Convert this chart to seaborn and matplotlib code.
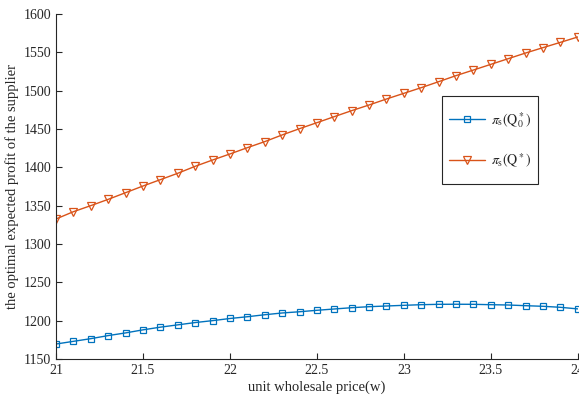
import numpy as np
import pandas as pd
import matplotlib
matplotlib.use("Agg")
import matplotlib.pyplot as plt
import seaborn as sns
from matplotlib.patches import Rectangle
from matplotlib.ticker import FuncFormatter

# unit wholesale price w, 21.0 .. 24.0 step 0.1
w = [21.0, 21.1, 21.2, 21.3, 21.4, 21.5, 21.6, 21.7, 21.8, 21.9,
     22.0, 22.1, 22.2, 22.3, 22.4, 22.5, 22.6, 22.7, 22.8, 22.9,
     23.0, 23.1, 23.2, 23.3, 23.4, 23.5, 23.6, 23.7, 23.8, 23.9, 24.0]

# pi_s(Q0*)
profit_q0 = [1169.5, 1173.0, 1176.5, 1180.5, 1184.0, 1188.0, 1191.5, 1194.5, 1197.5, 1200.0,
             1202.8, 1205.1, 1207.7, 1210.0, 1211.6, 1213.5, 1215.2, 1216.9, 1218.2, 1219.1,
             1220.0, 1220.8, 1221.3, 1221.4, 1221.3, 1220.8, 1220.4, 1219.5, 1218.7, 1217.4, 1215.3]

# pi_s(Q*)
profit_q = [1332.6, 1342.1, 1350.0, 1358.2, 1366.9, 1375.6, 1383.9, 1392.2, 1401.3, 1409.5,
            1417.4, 1425.6, 1433.5, 1442.2, 1450.4, 1458.2, 1466.1, 1473.9, 1481.3, 1489.1,
            1496.5, 1503.9, 1511.7, 1519.6, 1526.9, 1534.3, 1541.7, 1549.1, 1556.1, 1563.0, 1570.0]

labels = [r"$\pi_{\mathrm{s}}(\mathrm{Q}_0^*)$", r"$\pi_{\mathrm{s}}(\mathrm{Q}^*)$"]
colors = ["#0072BD", "#D95319"]

sns.set_style("ticks")
plt.rcParams["font.family"] = ["Liberation Serif", "DejaVu Serif"]
plt.rcParams["mathtext.fontset"] = "stix"
plt.rcParams["xtick.direction"] = "in"
plt.rcParams["ytick.direction"] = "in"

fig = plt.figure(figsize=(5.79, 3.99), dpi=100)
ax = fig.add_axes([0.0967, 0.1003, 0.9013, 0.8647])

sns.lineplot(x=w, y=profit_q0, ax=ax, color=colors[0], linewidth=1,
             marker="s", markersize=4.5, markerfacecolor="none",
             markeredgecolor=colors[0], markeredgewidth=0.9, label=labels[0])
sns.lineplot(x=w, y=profit_q, ax=ax, color=colors[1], linewidth=1,
             marker="v", markersize=5.5, markerfacecolor="none",
             markeredgecolor=colors[1], markeredgewidth=0.9, label=labels[1])

ax.set_xlim(21, 24)
ax.set_ylim(1150, 1600)
ax.set_xticks(np.arange(21, 24.01, 0.5))
ax.set_yticks(np.arange(1150, 1601, 50))
ax.xaxis.set_major_formatter(FuncFormatter(lambda v, p: f"{v:g}"))
ax.tick_params(labelsize=10, length=4, width=0.8, colors="#262626")
for s in ["left", "bottom"]:
    ax.spines[s].set_color("#262626")
    ax.spines[s].set_linewidth(0.8)
sns.despine(ax=ax)

ax.set_xlabel("unit wholesale price(w)", fontsize=10.5, labelpad=3)
ax.set_ylabel("the optimal expected profit of the supplier", fontsize=10.5, labelpad=3)

# legend entries without frame, box drawn separately (MATLAB-like padding)
ax.legend(loc="center left", bbox_to_anchor=(0.753, 0.635), fontsize=10,
          frameon=False, handlelength=2.6, labelspacing=1.55,
          borderpad=0, handletextpad=0.4, borderaxespad=0)
ax.add_patch(Rectangle((0.739, 0.506), 0.185, 0.257, transform=ax.transAxes,
                       facecolor="white", edgecolor="#262626", linewidth=0.8,
                       zorder=4))

fig.savefig("out.png", dpi=100)
